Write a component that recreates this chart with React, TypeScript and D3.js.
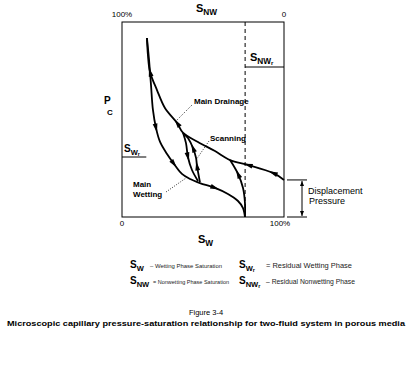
import React from "react"
import * as d3 from "d3"

// saturation of wetting phase (%), capillary pressure (relative %)
const drainage: [number, number][] = [
  [15.4, 91.8], [16.0, 83.1], [17.3, 74.4], [21.6, 65.1], [26.5, 55.9], [34.0, 48.2],
  [37.7, 43.1], [46.9, 38.5], [57.4, 33.8], [66.7, 29.2], [77.8, 26.7], [93.2, 22.6], [100, 19.0],
]
const wetting: [number, number][] = [
  [15.4, 91.8], [16.7, 80.5], [17.9, 67.7], [19.1, 54.9], [21.0, 45.6], [23.5, 38.5],
  [27.8, 32.3], [32.1, 27.2], [37.0, 22.1], [42.0, 19.5], [48.1, 17.4], [57.4, 14.9],
  [65.4, 11.8], [71.6, 8.2], [74.7, 4.6], [75.9, 0],
]
const scanDown: [number, number][] = [
  [37.7, 43.1], [39.5, 37.9], [40.7, 30.8], [43.2, 24.1], [46.9, 18.5],
]
const scanUp: [number, number][] = [
  [48.1, 17.9], [46.3, 26.2], [45.7, 30.3], [43.8, 35.4], [40.7, 40.5], [37.7, 43.1],
]
const secondary: [number, number][] = [
  [75.9, 0], [75.9, 7.2], [74.7, 14.9], [71.6, 22.1], [66.7, 29.2],
]

// arrows: which curve, at which vertex, pointing forward (1) or backward (-1)
const arrows = [
  { curve: "drainage", at: 2, dir: -1 },
  { curve: "drainage", at: 5, dir: -1 },
  { curve: "drainage", at: 10, dir: -1 },
  { curve: "drainage", at: 11, dir: -1 },
  { curve: "wetting", at: 4, dir: 1 },
  { curve: "wetting", at: 7, dir: 1 },
  { curve: "wetting", at: 11, dir: 1 },
  { curve: "scanDown", at: 2, dir: 1 },
  { curve: "scanUp", at: 1, dir: 1 },
  { curve: "scanUp", at: 3, dir: 1 },
  { curve: "secondary", at: 3, dir: 1 },
]

const residualNW = 76 // dashed line, Sw at residual nonwetting
const residualW = 15 // S_Wr marker length

const legendLeft = [
  { main: "S", sub: "W", text: "– Wetting Phase Saturation", w: 72 },
  { main: "S", sub: "NW", text: "= Nonwetting Phase Saturation", w: 76 },
]
const legendRight = [
  { main: "S", sub: "Wr", text: "= Residual Wetting Phase", w: 86 },
  { main: "S", sub: "NWr", text: "– Residual Nonwetting Phase", w: 89 },
]

const FONT = "'Liberation Sans', Arial, sans-serif"
const NARROW = "'Liberation Sans Narrow', 'Liberation Sans', Arial, sans-serif"

function Sym({ x, y, main, sub, size = 10 }: { x: number; y: number; main: string; sub: string; size?: number }) {
  const r = sub.endsWith("r") && sub.length > 1
  const s = r ? sub.slice(0, -1) : sub
  return (
    <text x={x} y={y} fontFamily={FONT} fontWeight="bold" fontSize={size} fill="#000">
      {main}
      <tspan fontSize={size * 0.75} dy={size * 0.25}>{s}</tspan>
      {r && <tspan fontSize={size * 0.55} dy={size * 0.15}>r</tspan>}
    </text>
  )
}

export default function App() {
  const x = d3.scaleLinear().domain([0, 100]).range([122, 284])
  const y = d3.scaleLinear().domain([0, 100]).range([217, 22])
  const line = d3
    .line<[number, number]>()
    .x((d) => x(d[0]))
    .y((d) => y(d[1]))
    .curve(d3.curveCatmullRom.alpha(0.5))

  const curves: Record<string, [number, number][]> = { drainage, wetting, scanDown, scanUp, secondary }

  const arrowPaths = arrows.map((a, i) => {
    const pts = curves[a.curve]
    const p = pts[a.at]
    const p0 = pts[Math.max(0, a.at - 1)]
    const p1 = pts[Math.min(pts.length - 1, a.at + 1)]
    const cx = x(p[0])
    const cy = y(p[1])
    let dx = (x(p1[0]) - x(p0[0])) * a.dir
    let dy = (y(p1[1]) - y(p0[1])) * a.dir
    const len = Math.hypot(dx, dy) || 1
    dx /= len
    dy /= len
    const L = 4.5
    const W = 2.4
    const tip = [cx + dx * L, cy + dy * L]
    const b1 = [cx - dx * L - dy * W, cy - dy * L + dx * W]
    const b2 = [cx - dx * L + dy * W, cy - dy * L - dx * W]
    return <path key={i} d={`M${tip}L${b1}L${b2}Z`} fill="#000" />
  })

  const dispTop = y(drainage[drainage.length - 1][1])

  return (
    <svg width={412} height={368} style={{ position: "absolute", left: 0, top: 0, background: "#fff" }}>
      <rect x={0} y={0} width={412} height={368} fill="#fff" />
      {/* frame */}
      <rect x={x(0)} y={y(100)} width={x(100) - x(0)} height={y(0) - y(100)} fill="none" stroke="#000" strokeWidth={1} />
      {/* residual nonwetting dashed line */}
      <line x1={x(residualNW)} x2={x(residualNW)} y1={y(100)} y2={y(0)} stroke="#000" strokeWidth={1} strokeDasharray="4,3" />

      {/* curves */}
      {Object.keys(curves).map((k) => (
        <path key={k} d={line(curves[k]) || ""} fill="none" stroke="#000" strokeWidth={1.8} />
      ))}
      {arrowPaths}

      {/* top axis */}
      <Sym x={196} y={12} main="S" sub="NW" size={11} />
      <text x={x(0)} y={17} textAnchor="middle" fontFamily={FONT} fontSize={8}>100%</text>
      <text x={x(100)} y={17} textAnchor="middle" fontFamily={FONT} fontSize={8}>0</text>

      {/* bottom axis */}
      <text x={x(0)} y={226} textAnchor="middle" fontFamily={FONT} fontSize={8}>0</text>
      <text x={x(100) - 4} y={226} textAnchor="middle" fontFamily={FONT} fontSize={8}>100%</text>
      <Sym x={198} y={243} main="S" sub="W" size={11} />

      {/* Pc */}
      <text x={104} y={104} fontFamily={FONT} fontWeight="bold" fontSize={10}>P</text>
      <text x={107} y={115} fontFamily={FONT} fontWeight="bold" fontSize={8}>C</text>

      {/* S_NWr */}
      <Sym x={250} y={61} main="S" sub="NWr" size={11} />
      <line x1={x(residualNW)} x2={x(100)} y1={67} y2={67} stroke="#000" strokeWidth={1} />
      {/* S_Wr */}
      <Sym x={124} y={152} main="S" sub="Wr" size={10} />
      <line x1={x(0)} x2={x(residualW)} y1={157} y2={157} stroke="#000" strokeWidth={1} />

      {/* labels and leaders */}
      <text x={194} y={104} fontFamily={FONT} fontWeight="bold" fontSize={8}>Main Drainage</text>
      <line x1={192} y1={105} x2={176} y2={121} stroke="#000" strokeWidth={0.8} strokeDasharray="1,1.5" />
      <text x={210} y={141} fontFamily={FONT} fontWeight="bold" fontSize={8}>Scanning</text>
      <line x1={209} y1={141} x2={196} y2={160} stroke="#000" strokeWidth={0.8} strokeDasharray="1,1.5" />
      <text x={133} y={187} fontFamily={FONT} fontWeight="bold" fontSize={8}>Main</text>
      <text x={133} y={197} fontFamily={FONT} fontWeight="bold" fontSize={8}>Wetting</text>
      <line x1={166} y1={192} x2={186} y2={178} stroke="#000" strokeWidth={0.8} strokeDasharray="1,1.5" />

      {/* displacement pressure bracket */}
      <line x1={x(100) + 3} x2={x(100) + 23} y1={dispTop} y2={dispTop} stroke="#000" strokeWidth={1} />
      <line x1={x(100) + 3} x2={x(100) + 23} y1={y(0)} y2={y(0)} stroke="#000" strokeWidth={1} />
      <line x1={x(100) + 18} x2={x(100) + 18} y1={dispTop + 1} y2={y(0) - 1} stroke="#000" strokeWidth={1} />
      <path d={`M${x(100) + 18},${dispTop + 1}l-2,5h4Z`} fill="#000" />
      <path d={`M${x(100) + 18},${y(0) - 1}l-2,-5h4Z`} fill="#000" />
      <text x={x(100) + 24} y={194} fontFamily={FONT} fontSize={9}>Displacement</text>
      <text x={x(100) + 25} y={204} fontFamily={FONT} fontSize={9}>Pressure</text>

      {/* legend */}
      {legendLeft.map((d, i) => (
        <g key={"l" + i}>
          <Sym x={130} y={268 + i * 16} main={d.main} sub={d.sub} size={10} />
          <text x={d.sub.length > 1 ? 153 : 150} y={268 + i * 16} fontFamily={NARROW} fontSize={6} fill="#222" textLength={d.w} lengthAdjust="spacingAndGlyphs">{d.text}</text>
        </g>
      ))}
      {legendRight.map((d, i) => (
        <g key={"r" + i}>
          <Sym x={239} y={268 + i * 16} main={d.main} sub={d.sub} size={10} />
          <text x={266} y={268 + i * 16} fontFamily={NARROW} fontSize={7} fill="#222" textLength={d.w} lengthAdjust="spacingAndGlyphs">{d.text}</text>
        </g>
      ))}

      {/* caption */}
      <text x={206} y={315} textAnchor="middle" fontFamily={FONT} fontSize={7.5}>Figure 3-4</text>
      <text x={206} y={326} textAnchor="middle" fontFamily={FONT} fontWeight="bold" fontSize={8} textLength={398} lengthAdjust="spacingAndGlyphs">
        Microscopic capillary pressure-saturation relationship for two-fluid system in porous media
      </text>
    </svg>
  )
}
